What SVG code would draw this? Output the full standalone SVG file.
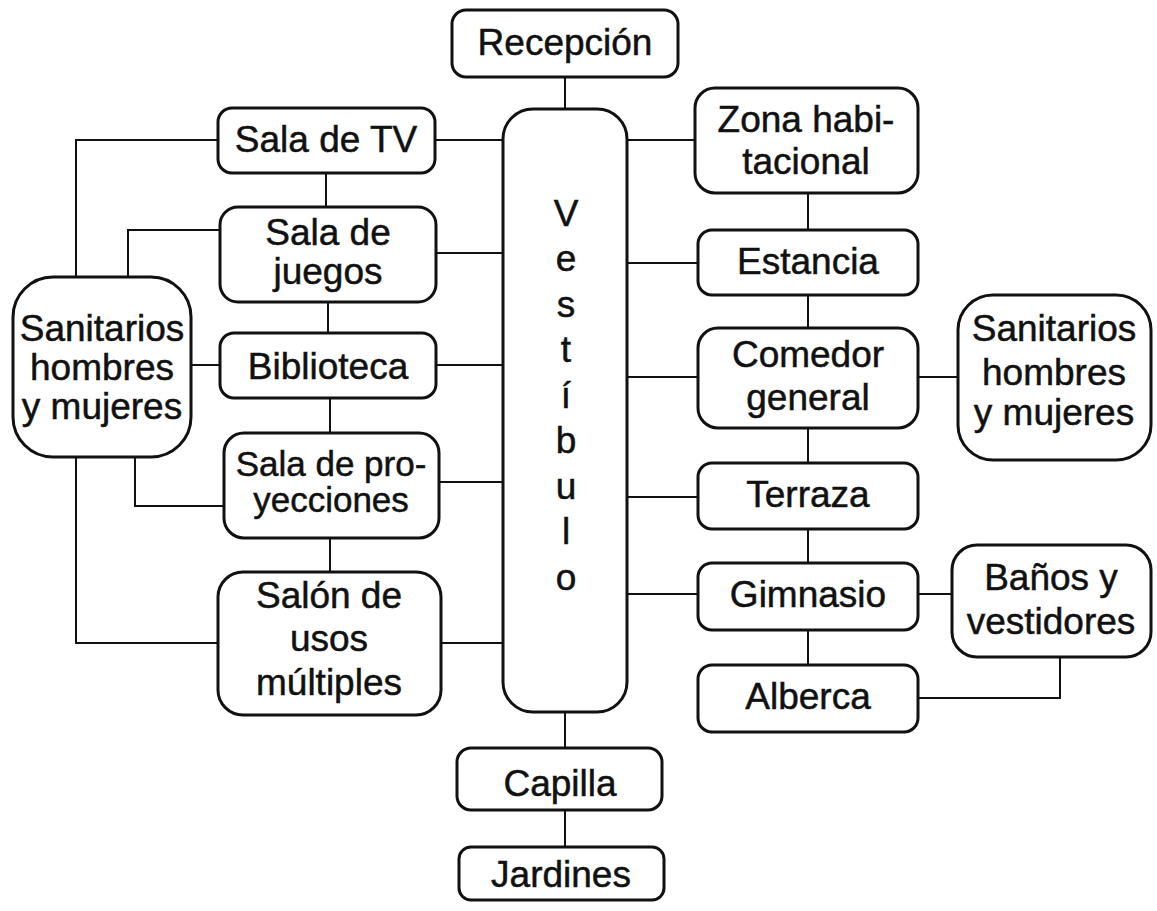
<svg xmlns="http://www.w3.org/2000/svg" width="1157" height="911" viewBox="0 0 1157 911">
<style>
.b{fill:#fff;stroke:#111;stroke-width:3}
.t{font-family:"Liberation Sans",Arial,sans-serif;font-size:37px;fill:#111;stroke:#111;stroke-width:0.5;text-anchor:middle}
.s{font-size:35px}
.c{fill:none;stroke:#111;stroke-width:2}
</style>
<rect width="1157" height="911" fill="#fff"/>
<g id="connectors">
<path class="c" d="M565 77V109M565 712V748M565 810V847"/>
<path class="c" d="M218 140H76V277M220 230H128V277M191 365H220M135 457V506H224M76 457V643H218"/>
<path class="c" d="M326 173V207M328 302V333M330 398V433M330 538V572"/>
<path class="c" d="M435 140H503M436 253H503M436 365H503M439 482H503M441 643H503"/>
<path class="c" d="M627 140H695M627 263H698M627 377H698M627 497H698M627 594H698"/>
<path class="c" d="M808 193V230M808 295V328M808 428V463M808 529V563M808 630V665"/>
<path class="c" d="M918 377H958M918 594H952M1060 657V698H918"/>
</g>
<g id="recepcion"><rect class="b" x="452" y="10" width="226" height="67" rx="14"/><text class="t" x="565" y="55">Recepción</text></g>
<g id="vestibulo"><rect class="b" x="503" y="109" width="124" height="603" rx="30"/>
<text class="t" x="566" y="226">V</text><text class="t" x="566" y="271">e</text><text class="t" x="566" y="317">s</text><text class="t" x="566" y="362">t</text><text class="t" x="566" y="408">í</text><text class="t" x="566" y="453">b</text><text class="t" x="566" y="499">u</text><text class="t" x="566" y="544">l</text><text class="t" x="566" y="590">o</text></g>
<g id="sala-tv"><rect class="b" x="218" y="108" width="217" height="65" rx="14"/><text class="t" x="326" y="152">Sala de TV</text></g>
<g id="sala-juegos"><rect class="b" x="220" y="207" width="216" height="95" rx="18"/><text class="t" x="328" y="245">Sala de</text><text class="t" x="328" y="284">juegos</text></g>
<g id="biblioteca"><rect class="b" x="220" y="333" width="216" height="65" rx="14"/><text class="t" x="328" y="379">Biblioteca</text></g>
<g id="sala-proyecciones"><rect class="b" x="224" y="433" width="215" height="105" rx="20"/><text class="t s" x="331" y="476">Sala de pro-</text><text class="t s" x="331" y="512">yecciones</text></g>
<g id="salon-usos"><rect class="b" x="218" y="572" width="223" height="143" rx="25"/><text class="t" x="329" y="608">Salón de</text><text class="t" x="329" y="651">usos</text><text class="t" x="329" y="695">múltiples</text></g>
<g id="sanitarios-izq"><rect class="b" x="13" y="277" width="178" height="180" rx="40"/><text class="t" x="102" y="341">Sanitarios</text><text class="t" x="102" y="380">hombres</text><text class="t" x="102" y="419">y mujeres</text></g>
<g id="zona-habitacional"><rect class="b" x="695" y="88" width="223" height="105" rx="20"/><text class="t" x="806" y="132">Zona habi-</text><text class="t" x="806" y="174">tacional</text></g>
<g id="estancia"><rect class="b" x="698" y="230" width="220" height="65" rx="14"/><text class="t" x="808" y="274">Estancia</text></g>
<g id="comedor"><rect class="b" x="698" y="328" width="220" height="100" rx="20"/><text class="t" x="808" y="367">Comedor</text><text class="t" x="808" y="410">general</text></g>
<g id="sanitarios-der"><rect class="b" x="958" y="295" width="193" height="165" rx="35"/><text class="t" x="1054" y="341">Sanitarios</text><text class="t" x="1054" y="385">hombres</text><text class="t" x="1054" y="425">y mujeres</text></g>
<g id="terraza"><rect class="b" x="698" y="463" width="220" height="66" rx="14"/><text class="t" x="808" y="507">Terraza</text></g>
<g id="gimnasio"><rect class="b" x="698" y="563" width="220" height="67" rx="14"/><text class="t" x="808" y="607">Gimnasio</text></g>
<g id="banos"><rect class="b" x="952" y="545" width="199" height="112" rx="25"/><text class="t" x="1051" y="590">Baños y</text><text class="t" x="1051" y="634">vestidores</text></g>
<g id="alberca"><rect class="b" x="698" y="665" width="220" height="67" rx="14"/><text class="t" x="808" y="709">Alberca</text></g>
<g id="capilla"><rect class="b" x="457" y="748" width="205" height="62" rx="14"/><text class="t" x="560" y="796">Capilla</text></g>
<g id="jardines"><rect class="b" x="459" y="847" width="205" height="53" rx="12"/><text class="t" x="561" y="887">Jardines</text></g>
</svg>
